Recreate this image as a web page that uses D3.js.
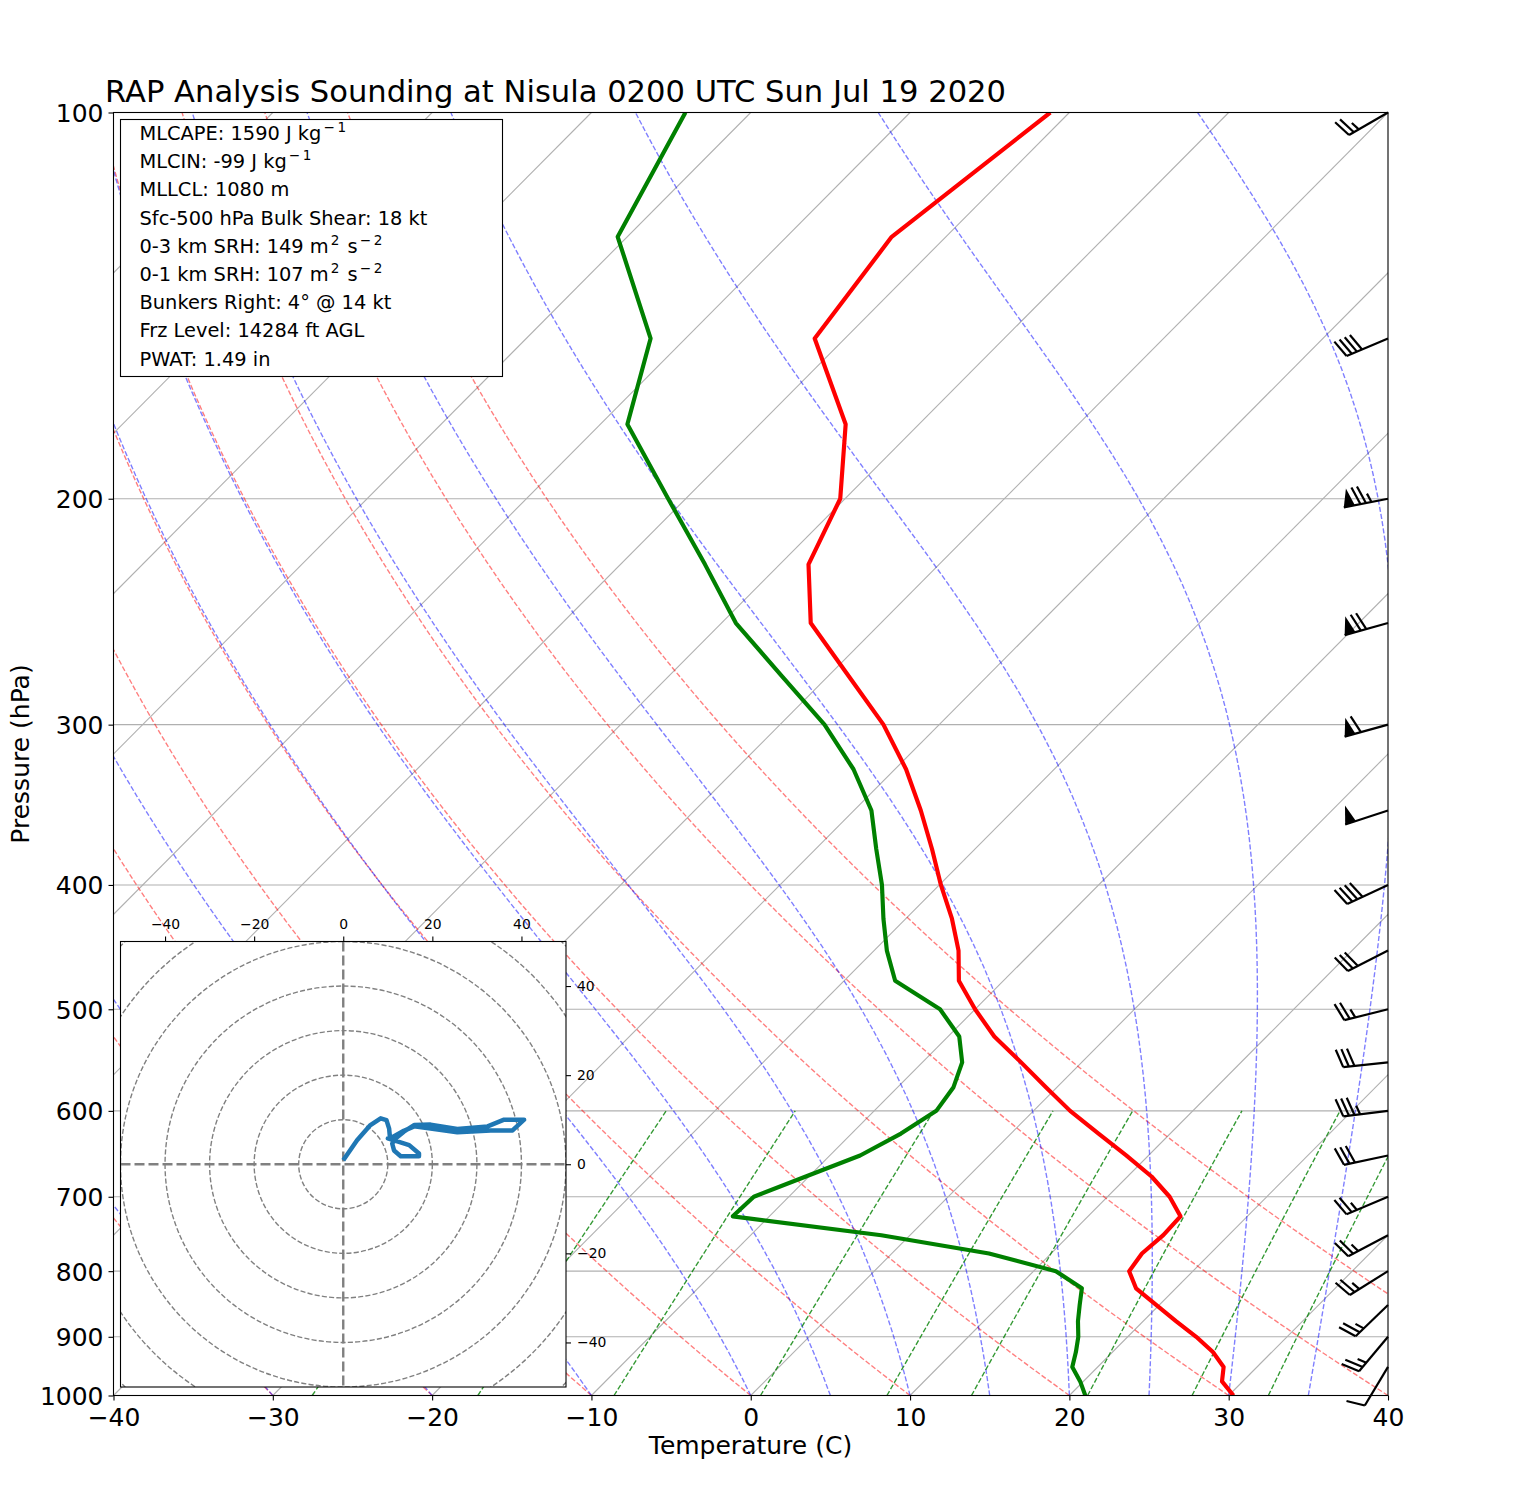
<!DOCTYPE html>
<html>
<head>
<meta charset="utf-8">
<script src="https://cdn.jsdelivr.net/npm/d3@7"></script>
<style>
body { margin: 0; background: #fff; }
text { font-family: "DejaVu Sans"; fill: #000; }
</style>
</head>
<body>
<svg width="1525" height="1508"></svg>
<script>
// sounding, 25 hPa levels from the surface up
var pressure = [1000,975,950,925,900,875,850,825,800,775,750,725,700,675,650,625,600,575,550,525,500,475,450,425,400,375,350,325,300,275,250,225,200,175,150,125,100];
var temperature = [30.3,28.7,27.9,26.3,24.3,22.05,19.8,17.5,16.0,15.7,15.9,15.8,13.9,11.5,8.6,5.5,2.3,-0.7,-3.8,-7.1,-10.0,-12.8,-14.7,-17.1,-19.9,-22.7,-25.8,-29.3,-33.5,-38.7,-44.4,-48.2,-50.3,-54.6,-61.9,-63.4,-61.2];
var dewpoint = [21.0,19.8,18.4,17.7,16.9,15.9,15.0,14.1,11.4,6.1,-1.8,-12.3,-12.2,-10.2,-8.1,-6.9,-6.1,-6.5,-7.5,-9.3,-12.2,-16.8,-19.2,-21.4,-23.6,-26.2,-28.9,-32.6,-37.2,-42.9,-49.1,-54.7,-61.1,-68.3,-72.2,-80.6,-84.1];

// wind barbs, every 50 hPa
var barbP = [950,900,850,800,750,700,650,600,550,500,450,400,350,300,250,200,150,100];
var barbSpeed = [10,25,25,25,25,25,30,35,30,25,30,40,50,60,70,75,40,25];
var barbDir = [211,220,226,238,242,247,258,263,264,256,243,245,252,254.5,254.5,259,247,240];

// hodograph trace, kt
var hodoU = [0,3.1,6.1,8.4,9.7,10.3,10.5,10,12.5,14.8,17,17,12.9,11.4,11,11.4,13.6,15.9,19.6,25.6,32.4,36.1,40.6,38,33.1,25.6,19.6,15.9,13.6,10.5];
var hodoV = [0.9,5.4,8.8,10.3,9.9,8,5.8,5.8,5,4.3,2.4,1.8,1.8,3.1,4.6,5.5,7.3,8.8,8.9,7.9,8.5,10,10,7.6,7.6,7.2,8,8.5,7.5,5.8];

// background line families
var isotherms = d3.range(-120, 50, 10);
var isobars = [100,200,300,400,500,600,700,800,900,1000];
var dryStart = [-30,-20,-10,0,10,20,30,40,50];
var moistStart = [-30,-20,-10,0,5,10,15,20,25,30,35];
var mixingRatios = [0.0004,0.001,0.002,0.004,0.007,0.01,0.016,0.024,0.032];
var tempTicks = [-40,-30,-20,-10,0,10,20,30,40];
var hodoTicks = [-40,-20,0,20,40];
var hodoRings = [10,20,30,40,50,60,70];

var infoLines = [
  "MLCAPE: 1590 J kg^{−\u20091}",
  "MLCIN: -99 J kg^{−\u20091}",
  "MLLCL: 1080 m",
  "Sfc-500 hPa Bulk Shear: 18 kt",
  "0-3 km SRH: 149 m^{2} s^{−\u20092}",
  "0-1 km SRH: 107 m^{2} s^{−\u20092}",
  "Bunkers Right: 4° @ 14 kt",
  "Frz Level: 14284 ft AGL",
  "PWAT: 1.49 in"
];

var left = 113.5, right = 1388, top_ = 112.5, bottom = 1395.5;
var w = right - left, h = bottom - top_;

var svg = d3.select("svg");
var tScale = d3.scaleLinear().domain([-40, 40]).range([left, right]);
var pScale = d3.scaleLog().domain([1000, 100]).range([bottom, top_]);

// 45 degree skew in axes space
function skewX(t, p) {
  return tScale(t) + (bottom - pScale(p)) / h * w;
}
var line = d3.line().x(function(d){ return skewX(d[0], d[1]); }).y(function(d){ return pScale(d[1]); });

svg.append("clipPath").attr("id", "plot").append("rect")
  .attr("x", left).attr("y", top_).attr("width", w).attr("height", h);
var plot = svg.append("g").attr("clip-path", "url(#plot)");

// grid
plot.selectAll(".iso").data(isotherms).enter().append("path")
  .attr("d", function(t){ return line([[t, 1000], [t, 100]]); })
  .attr("fill", "none").attr("stroke", "#b0b0b0").attr("stroke-width", 1.1);
plot.selectAll(".bar").data(isobars).enter().append("line")
  .attr("x1", left).attr("x2", right)
  .attr("y1", function(p){ return pScale(p); }).attr("y2", function(p){ return pScale(p); })
  .attr("stroke", "#b0b0b0").attr("stroke-width", 1.1);

var levels = d3.range(0, 61).map(function(i){ return 1000 * Math.pow(10, -i / 60); });

// dry adiabats
var kappa = 0.2845;
plot.selectAll(".dry").data(dryStart).enter().append("path")
  .attr("d", function(t0){
    return line(levels.map(function(p){ return [(t0 + 273.15) * Math.pow(p / 1000, kappa) - 273.15, p]; }));
  })
  .attr("fill", "none").attr("stroke", "#ff0000").attr("stroke-opacity", 0.5)
  .attr("stroke-width", 1.39).attr("stroke-dasharray", "5.1,2.2");

// moist adiabats, integrated up from 1000 hPa
function moistRate(T, p) {
  var es = 6.112 * Math.exp(17.67 * (T - 273.15) / (T - 29.65));
  var rs = 0.62198 * es / (p - es);
  var Rd = 287.05, Cp = 1010.7, Lv = 2.501e6, eps = 0.62198;
  return (Rd * T + Lv * rs) / (Cp + Lv * Lv * rs * eps / (Rd * T * T));
}
function moistPath(t0) {
  var T = t0 + 273.15, out = [[t0, 1000]];
  for (var i = 1; i < levels.length; i++) {
    var p0 = levels[i - 1], dl = Math.log(levels[i] / p0);
    var k1 = moistRate(T, p0);
    var k2 = moistRate(T + k1 * dl / 2, p0 * Math.exp(dl / 2));
    var k3 = moistRate(T + k2 * dl / 2, p0 * Math.exp(dl / 2));
    var k4 = moistRate(T + k3 * dl, levels[i]);
    T += dl * (k1 + 2 * k2 + 2 * k3 + k4) / 6;
    out.push([T - 273.15, levels[i]]);
  }
  return out;
}
plot.selectAll(".moist").data(moistStart).enter().append("path")
  .attr("d", function(t0){ return line(moistPath(t0)); })
  .attr("fill", "none").attr("stroke", "#0000ff").attr("stroke-opacity", 0.5)
  .attr("stroke-width", 1.39).attr("stroke-dasharray", "5.1,2.2");

// mixing ratio lines stop at 600 hPa
var mixLevels = d3.range(0, 11).map(function(i){ return 1000 - i * 40; });
plot.selectAll(".mix").data(mixingRatios).enter().append("path")
  .attr("d", function(r){
    return line(mixLevels.map(function(p){
      var l = Math.log(p * r / (0.62198 + r) / 6.112);
      return [243.5 * l / (17.67 - l), p];
    }));
  })
  .attr("fill", "none").attr("stroke", "#008000").attr("stroke-opacity", 0.8)
  .attr("stroke-width", 1.39).attr("stroke-dasharray", "5.1,2.2");

// profiles
plot.append("path").datum(d3.zip(temperature, pressure)).attr("d", line)
  .attr("fill", "none").attr("stroke", "#ff0000").attr("stroke-width", 4.17).attr("stroke-linejoin", "round");
plot.append("path").datum(d3.zip(dewpoint, pressure)).attr("d", line)
  .attr("fill", "none").attr("stroke", "#008000").attr("stroke-width", 4.17).attr("stroke-linejoin", "round");

// axes
var xAxis = svg.append("g").attr("transform", "translate(0," + bottom + ")")
  .call(d3.axisBottom(tScale).tickValues(tempTicks).tickSize(5).tickPadding(8).tickFormat(d3.format("d")));
var yAxis = svg.append("g").attr("transform", "translate(" + left + ",0)")
  .call(d3.axisLeft(pScale).tickValues(isobars).tickSize(5).tickPadding(5).tickFormat(d3.format("d")));
[xAxis, yAxis].forEach(function(a){
  a.selectAll("text").style("font-family", "DejaVu Sans").style("font-size", "25px").attr("fill", "#000");
  a.selectAll("line").attr("stroke", "#000").attr("stroke-width", 1.1);
  a.select(".domain").remove();
});
yAxis.selectAll("text").attr("dy", "0.36em");
svg.append("rect").attr("x", left).attr("y", top_).attr("width", w).attr("height", h)
  .attr("fill", "none").attr("stroke", "#000").attr("stroke-width", 1.1);

svg.append("text").attr("x", 105).attr("y", 102).attr("font-size", 30.58)
  .text("RAP Analysis Sounding at Nisula 0200 UTC Sun Jul 19 2020");
svg.append("text").attr("x", 750.5).attr("y", 1454).attr("text-anchor", "middle").attr("font-size", 25)
  .text("Temperature (C)");
svg.append("text").attr("transform", "translate(29,754) rotate(-90)").attr("text-anchor", "middle").attr("font-size", 25)
  .text("Pressure (hPa)");

// wind barbs hang off the right spine
var barbLen = 45, barbH = 0.4 * barbLen, barbW = 0.25 * barbLen, barbGap = 0.125 * barbLen;
function drawBarb(p, speed, dir) {
  var a = dir * Math.PI / 180;
  var dx = Math.sin(a), dy = -Math.cos(a);
  var nx = -dy, ny = dx;
  var bx = right, by = pScale(p);
  function pt(s, n) { return [bx + dx * s + nx * n, by + dy * s + ny * n]; }
  var g = svg.append("g");
  var stroke = function(pts) {
    g.append("path").attr("d", d3.line()(pts)).attr("fill", "none")
      .attr("stroke", "#000").attr("stroke-width", 2.2);
  };
  stroke([pt(0, 0), pt(barbLen, 0)]);
  var s = barbLen, rest = speed;
  var flags = Math.floor(rest / 50); rest -= flags * 50;
  var full = Math.floor(rest / 10); rest -= full * 10;
  var half = rest >= 5 ? 1 : 0;
  for (var i = 0; i < flags; i++) {
    g.append("path").attr("d", d3.line()([pt(s, 0), pt(s - barbW / 2, barbH), pt(s - barbW, 0)]) + "Z").attr("fill", "#000");
    s -= barbW + barbGap;
  }
  for (var j = 0; j < full; j++) {
    stroke([pt(s, 0), pt(s + barbW / 2, barbH)]);
    s -= barbGap;
  }
  if (half) {
    if (s === barbLen) s -= 1.5 * barbGap;
    stroke([pt(s, 0), pt(s + barbW / 4, barbH / 2)]);
  }
}
barbP.forEach(function(p, i){ drawBarb(p, barbSpeed[i], barbDir[i]); });

// info box
svg.append("rect").attr("x", 120.5).attr("y", 119.5).attr("width", 382).attr("height", 257)
  .attr("fill", "#fff").attr("stroke", "#000").attr("stroke-width", 1.1);
infoLines.forEach(function(s, i){
  var t = svg.append("text").attr("x", 139.5).attr("y", 140 + i * 28.2).attr("font-size", 19.4);
  s.split(/(\^\{[^}]*\})/).forEach(function(part){
    if (part.charAt(0) === "^") {
      t.append("tspan").attr("dy", -8).attr("dx", 2).attr("font-size", 13.6).text(part.slice(2, -1));
      t.append("tspan").attr("dy", 8).text("\u200a");
    } else if (part) {
      t.append("tspan").text(part);
    }
  });
});

// hodograph inset
var hx = 120.5, hy = 941.5, hs = 445.5;
var uScale = d3.scaleLinear().domain([-50, 50]).range([hx, hx + hs]);
var vScale = d3.scaleLinear().domain([-50, 50]).range([hy + hs, hy]);
svg.append("clipPath").attr("id", "hodo").append("rect")
  .attr("x", hx).attr("y", hy).attr("width", hs).attr("height", hs);
svg.append("rect").attr("x", hx).attr("y", hy).attr("width", hs).attr("height", hs).attr("fill", "#fff");
var hodo = svg.append("g").attr("clip-path", "url(#hodo)");
hodo.selectAll("circle").data(hodoRings).enter().append("circle")
  .attr("cx", uScale(0)).attr("cy", vScale(0))
  .attr("r", function(r){ return uScale(r) - uScale(0); })
  .attr("fill", "none").attr("stroke", "#808080").attr("stroke-width", 1.39).attr("stroke-dasharray", "5.1,2.2");
hodo.append("line").attr("x1", hx).attr("x2", hx + hs).attr("y1", vScale(0)).attr("y2", vScale(0))
  .attr("stroke", "#808080").attr("stroke-width", 2.4).attr("stroke-dasharray", "10,4");
hodo.append("line").attr("x1", uScale(0)).attr("x2", uScale(0)).attr("y1", hy).attr("y2", hy + hs)
  .attr("stroke", "#808080").attr("stroke-width", 2.4).attr("stroke-dasharray", "10,4");
hodo.append("path").datum(d3.zip(hodoU, hodoV))
  .attr("d", d3.line().x(function(d){ return uScale(d[0]); }).y(function(d){ return vScale(d[1]); }))
  .attr("fill", "none").attr("stroke", "#1f77b4").attr("stroke-width", 4.5).attr("stroke-linejoin", "round");

var hTop = svg.append("g").attr("transform", "translate(0," + hy + ")")
  .call(d3.axisTop(uScale).tickValues(hodoTicks).tickSize(5).tickPadding(8).tickFormat(d3.format("d")));
var hRight = svg.append("g").attr("transform", "translate(" + (hx + hs) + ",0)")
  .call(d3.axisRight(vScale).tickValues(hodoTicks).tickSize(5).tickPadding(6).tickFormat(d3.format("d")));
[hTop, hRight].forEach(function(a){
  a.selectAll("text").style("font-family", "DejaVu Sans").style("font-size", "13.9px").attr("fill", "#000");
  a.selectAll("line").attr("stroke", "#000").attr("stroke-width", 1.1);
  a.select(".domain").remove();
});
svg.append("rect").attr("x", hx).attr("y", hy).attr("width", hs).attr("height", hs)
  .attr("fill", "none").attr("stroke", "#000").attr("stroke-width", 1.1);
</script>
</body>
</html>
